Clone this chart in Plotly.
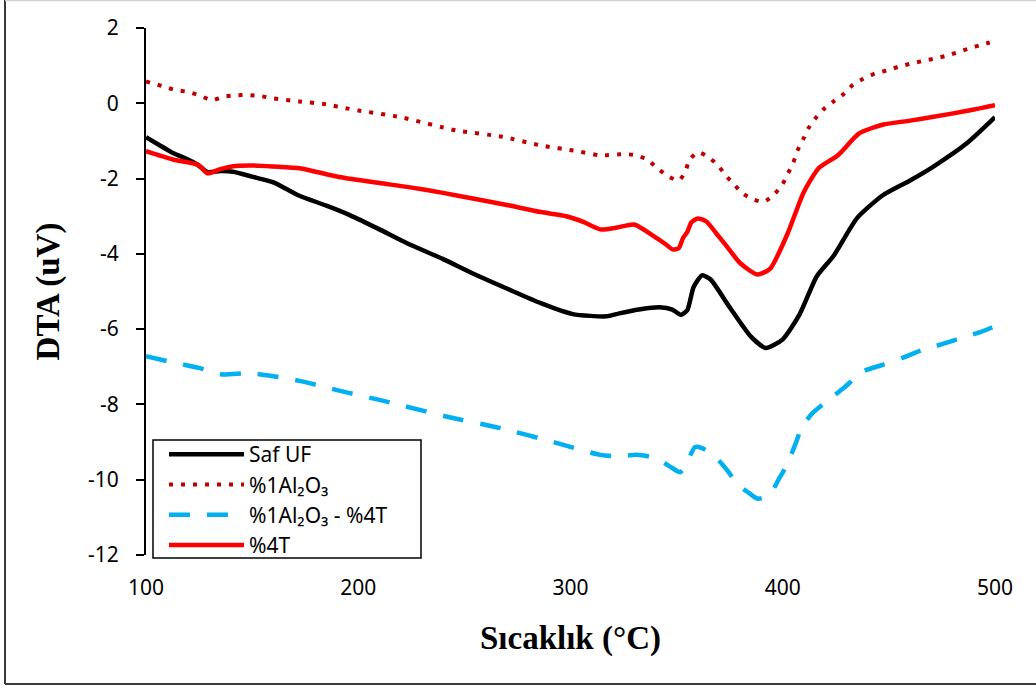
import plotly.graph_objects as go

# ---- data ----
saf_x = [100, 106, 112, 118, 124, 129, 135, 141, 150, 160, 172, 185, 196, 210, 223, 240, 254, 270, 286, 301,
         317, 323, 333, 342, 348, 352, 355, 358, 362, 366, 375, 385, 392, 400, 408, 416, 424, 435, 447, 460,
         471, 487, 500]
saf_y = [-0.90, -1.10, -1.30, -1.45, -1.62, -1.83, -1.80, -1.82, -1.95, -2.10, -2.45, -2.72, -2.97, -3.35,
         -3.72, -4.14, -4.52, -4.92, -5.31, -5.60, -5.66, -5.58, -5.47, -5.42, -5.48, -5.62, -5.50, -4.88,
         -4.57, -4.68, -5.42, -6.20, -6.50, -6.27, -5.60, -4.60, -4.05, -3.05, -2.45, -2.05, -1.68, -1.05, -0.37]

al_x = [100, 108, 114, 120, 126, 131, 136, 142, 148, 154, 160, 172, 185, 194, 200, 220, 246, 268, 286, 303,
        314, 325, 331, 336.5, 341, 346, 351, 354, 356, 360, 365, 369.5, 373, 377, 381, 386, 391, 396, 400,
        402.5, 405, 407, 409.5, 412, 415.7, 419.4, 424, 429, 433, 438, 443.5, 449, 454.5, 460, 465.6, 471,
        477, 482.6, 488, 494, 500]
al_y = [0.58, 0.45, 0.35, 0.30, 0.19, 0.08, 0.17, 0.21, 0.22, 0.19, 0.13, 0.05, -0.03, -0.13, -0.19, -0.37,
        -0.72, -0.89, -1.12, -1.27, -1.38, -1.35, -1.38, -1.51, -1.73, -1.94, -2.05, -1.83, -1.51, -1.30,
        -1.43, -1.65, -1.91, -2.15, -2.39, -2.55, -2.62, -2.42, -2.14, -1.86, -1.57, -1.25, -0.97, -0.67,
        -0.38, -0.15, 0.05, 0.26, 0.49, 0.65, 0.79, 0.87, 0.97, 1.05, 1.12, 1.18, 1.26, 1.36, 1.46, 1.56, 1.65]

alt_x = [100, 110, 125, 135, 149, 160, 173, 185, 196, 210, 220, 243, 267, 290, 314, 322, 331, 340, 348,
         351.6, 354, 358.7, 362, 365.7, 370, 373.7, 379, 384, 388, 391, 395, 398, 402, 406, 409, 414, 423,
         429, 438, 447, 457, 465, 475, 485, 494, 500]
alt_y = [-6.72, -6.85, -7.03, -7.20, -7.17, -7.25, -7.38, -7.55, -7.70, -7.88, -8.02, -8.34, -8.63, -8.97,
         -9.34, -9.38, -9.34, -9.42, -9.69, -9.80, -9.65, -9.13, -9.16, -9.29, -9.50, -9.74, -10.14, -10.35,
         -10.50, -10.48, -10.30, -10.00, -9.60, -9.05, -8.60, -8.23, -7.82, -7.55, -7.12, -6.95, -6.75, -6.57,
         -6.40, -6.22, -6.06, -5.92]

t_x = [100, 106, 113, 120, 125, 129, 135, 141, 149, 160, 173, 191, 210, 223, 240, 254, 270, 286, 298, 306,
       314, 322, 330, 339, 345, 348, 351, 353, 355, 357, 360, 364, 370, 375, 380, 388, 394, 402, 410, 417,
       426, 436, 447, 460, 471, 487, 500]
t_y = [-1.27, -1.38, -1.50, -1.57, -1.65, -1.86, -1.75, -1.67, -1.65, -1.68, -1.73, -1.96, -2.12, -2.22,
       -2.38, -2.53, -2.70, -2.89, -3.00, -3.15, -3.35, -3.30, -3.22, -3.52, -3.75, -3.88, -3.85, -3.58,
       -3.42, -3.16, -3.06, -3.14, -3.55, -3.90, -4.25, -4.55, -4.40, -3.50, -2.35, -1.72, -1.38, -0.80,
       -0.57, -0.46, -0.36, -0.20, -0.05]

names = ["Saf UF", "%1Al₂O₃", "%1Al₂O₃ - %4T", "%4T"]
x_ticks = [100, 200, 300, 400, 500]
y_ticks = [2, 0, -2, -4, -6, -8, -10, -12]

fig = go.Figure()
fig.add_trace(go.Scatter(x=saf_x, y=saf_y, name=names[0], mode="lines",
                         line=dict(color="#000000", width=4.5, shape="spline", smoothing=0.6)))
fig.add_trace(go.Scatter(x=al_x, y=al_y, name=names[1], mode="lines",
                         line=dict(color="#C00000", width=4, dash="4px,8px", shape="spline", smoothing=0.6)))
fig.add_trace(go.Scatter(x=alt_x, y=alt_y, name=names[2], mode="lines",
                         line=dict(color="#00B0F0", width=4.5, dash="21px,17px", shape="spline", smoothing=0.6)))
fig.add_trace(go.Scatter(x=t_x, y=t_y, name=names[3], mode="lines",
                         line=dict(color="#FF0000", width=4.5, shape="spline", smoothing=0.6)))

W, H = 1036, 691
L, R, T, B = 146, 41, 28, 136
pw, ph = W - L - R, H - T - B


def px(v):
    return (v - L) / pw


def py(v):
    return (H - B - v) / ph


tickfont = dict(family="Noto Sans, Open Sans, sans-serif", size=21, color="#000000")
titlefont = dict(family="Liberation Serif, Times New Roman, serif", size=33, color="#000000")

fig.update_layout(
    width=W, height=H,
    paper_bgcolor="white", plot_bgcolor="white",
    margin=dict(l=L, r=R, t=T, b=B),
    showlegend=True,
    legend=dict(x=px(164), y=py(434), xanchor="left", yanchor="top",
                bgcolor="rgba(0,0,0,0)", borderwidth=0,
                font=dict(family="Noto Sans, Open Sans, sans-serif", size=21, color="#000000"),
                itemwidth=75, tracegroupgap=0),
    xaxis=dict(range=[100, 500], tickvals=x_ticks, ticktext=[str(v) for v in x_ticks],
               showline=False, showgrid=False, zeroline=False, ticks="",
               tickfont=tickfont, ticklabelstandoff=18,
               title=dict(text="<b>Sıcaklık (°C)</b>", font=titlefont, standoff=25)),
    yaxis=dict(range=[-12, 2], tickvals=y_ticks, ticktext=[str(v) for v in y_ticks],
               showline=True, linecolor="#000000", linewidth=2,
               ticks="outside", ticklen=8, tickwidth=2, tickcolor="#000000",
               showgrid=False, zeroline=False, tickfont=tickfont, ticklabelstandoff=13,
               title=dict(text="<b>DTA (uV)</b>", font=titlefont, standoff=18)),
)

# legend frame
fig.add_shape(type="rect", xref="paper", yref="paper", layer="above",
              x0=px(153), x1=px(421), y0=py(558), y1=py(440),
              fillcolor="white", line=dict(color="#000000", width=1.5))

# outer chart border
fig.add_shape(type="line", xref="paper", yref="paper", x0=px(5), x1=px(5), y0=py(0), y1=py(684),
              line=dict(color="#3a3a3a", width=2))
fig.add_shape(type="line", xref="paper", yref="paper", x0=px(5), x1=px(1040), y0=py(684), y1=py(684),
              line=dict(color="#3a3a3a", width=2))
fig.add_shape(type="line", xref="paper", yref="paper", x0=px(5), x1=px(1040), y0=py(0.5), y1=py(0.5),
              line=dict(color="#cfcfcf", width=1.5))

fig.write_html("out.html", config={"displayModeBar": False},
               post_script="document.body.style.margin='0px';")
